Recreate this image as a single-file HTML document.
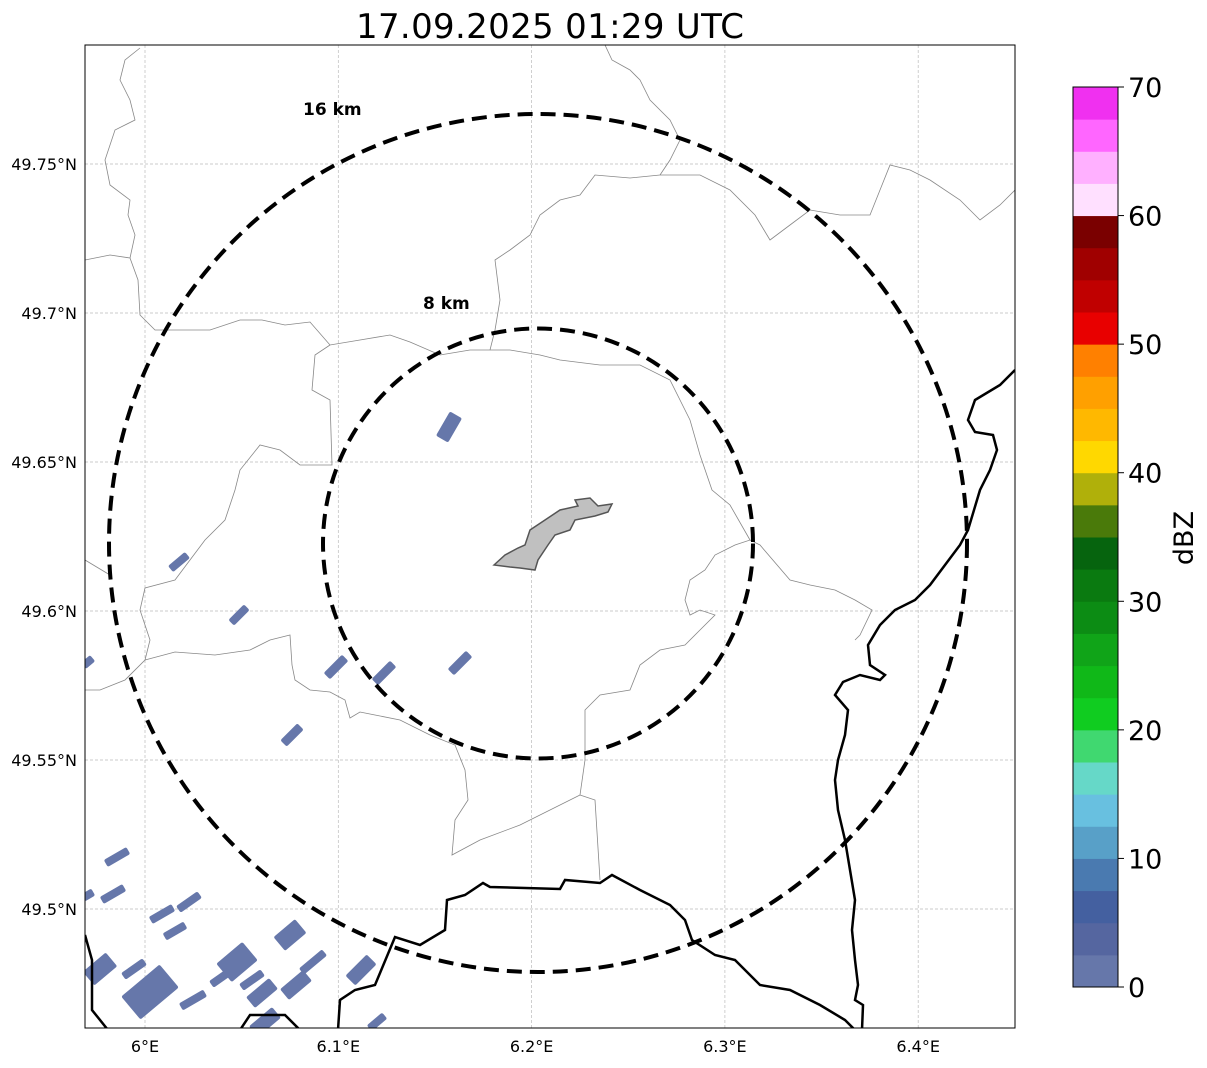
<!DOCTYPE html>
<html><head><meta charset="utf-8"><style>
body{margin:0;background:#fff;font-family:"DejaVu Sans","Liberation Sans",sans-serif}
svg text{font-family:"DejaVu Sans","Liberation Sans",sans-serif}
</style></head><body>
<svg width="1207" height="1064" xmlns="http://www.w3.org/2000/svg">
<text x="550" y="38" text-anchor="middle" font-size="34" textLength="388">17.09.2025 01:29 UTC</text>
<defs><clipPath id="mc"><rect x="85" y="45" width="930" height="983"/></clipPath></defs>
<g id="grid"></g>
<g clip-path="url(#mc)">
<g fill="none" stroke="#888" stroke-width="0.8">
<path d="M85,260 L110,255 L130,258 L138,280 L140,315 L155,330 L185,330 L210,330 L240,320 L262,320 L285,325 L310,322 L330,345 L360,340 L390,335 L410,342 L440,355 L470,350 L510,350 L540,355 L560,360 L600,365 L640,365 L670,380 L690,420 L700,455 L712,490 L730,505 L750,540"/>
<path d="M130,258 L135,235 L128,215 L130,200 L110,185 L105,160 L115,130 L135,120 L130,100 L120,80 L125,60 L140,48"/>
<path d="M330,345 L315,355 L312,390 L330,400 L332,465 L300,465 L280,450 L260,445 L240,470 L235,490 L225,520 L205,540 L190,560 L175,580 L145,588 L140,610 L150,640 L145,660 L125,680 L100,690 L85,690"/>
<path d="M145,660 L175,652 L215,655 L250,650 L270,640 L290,635 L292,665 L295,680 L310,690 L330,692 L345,700 L350,718 L360,712 L375,715 L400,720 L430,735 L455,745 L465,770 L468,800 L455,820 L452,855 L480,840 L520,825 L580,795"/>
<path d="M580,795 L595,800 L600,880"/>
<path d="M580,795 L585,760 L585,710 L600,695 L630,690 L640,665 L660,650 L685,645 L700,630 L715,615 L700,610 L690,615 L685,600 L690,580 L705,570 L715,555 L735,545 L750,540 L760,545 L790,580 L810,585 L835,590 L855,600 L872,610 L860,635 L855,640"/>
<path d="M490,350 L495,330 L500,300 L495,260 L510,250 L530,235 L540,215 L560,200 L580,195 L595,175 L630,178 L660,175 L700,175 L730,190 L755,215 L770,240 L790,225 L810,210 L840,215 L870,215 L880,190 L890,165 L910,170 L930,180 L960,200 L980,220 L1000,205 L1015,190"/>
<path d="M660,175 L670,160 L680,140 L670,120 L650,100 L640,80 L630,70 L612,60 L605,45"/>
<path d="M85,560 L110,575"/>
</g>
<g id="echoes" fill="#6677aa"></g>
<path d="M494,565 L505,555 L518,548 L525,545 L530,530 L545,520 L560,510 L578,506 L575,500 L590,498 L598,506 L612,504 L608,512 L595,516 L575,520 L570,530 L555,535 L548,545 L538,560 L535,570 L520,568 L510,567 Z" fill="#c0c0c0" stroke="#555" stroke-width="1.5"/>
<g fill="none" stroke="#000" stroke-width="2.5">
<path d="M1015,370 L1000,385 L975,400 L968,420 L975,432 L993,435 L997,450 L990,470 L980,490 L968,530 L960,545 L945,565 L930,585 L915,600 L895,610 L880,625 L868,645 L870,665 L885,675 L880,680 L860,675 L843,682 L835,695 L848,710 L845,735 L838,760 L835,780 L838,810 L845,840 L850,870 L855,900 L852,930 L855,960 L858,985 L855,1000 L863,1005 L862,1030"/>
<path d="M338,1030 L340,1000 L355,990 L375,985 L395,937 L420,945 L445,930 L447,900 L465,895 L483,883 L490,887 L560,889 L565,880 L600,883 L612,875 L640,890 L670,905 L685,920 L692,940 L715,955 L735,960 L760,985 L790,990 L820,1005 L845,1020 L855,1030"/>
<path d="M85,935 L92,960 L92,1010 L108,1030"/>
<path d="M240,1030 L250,1015 L285,1015 L300,1030"/>
</g>
</g>
<g fill="none" stroke="#000" stroke-width="4" stroke-dasharray="15,8">
<circle cx="538" cy="543" r="429"/>
<circle cx="538" cy="543.5" r="215"/>
</g>
<text x="303" y="115" font-size="17" font-weight="bold">16 km</text>
<text x="423" y="309" font-size="17" font-weight="bold">8 km</text>
<rect x="85" y="45" width="930" height="983" fill="none" stroke="#000" stroke-width="1"/>
<g id="ticks" font-size="16"></g>
<g id="cbar"></g>
<text transform="translate(1193,538) rotate(-90)" text-anchor="middle" font-size="27">dBZ</text>
</svg>
<script>
const lonTicks=[6.0,6.1,6.2,6.3,6.4];
const lonLabels=["6°E","6.1°E","6.2°E","6.3°E","6.4°E"];
const latTicks=[49.75,49.7,49.65,49.6,49.55,49.5];
const latLabels=["49.75°N","49.7°N","49.65°N","49.6°N","49.55°N","49.5°N"];
const cbarColors=["#6677aa","#5566a0","#4460a0","#4a7ab0","#58a0c8","#68c0e0","#66d8c8","#40d870","#10cc20","#10b818","#10a418","#0c8c14","#0a7a10","#06640e","#4a7a0a","#b0b00a","#ffd800","#ffb800","#ffa000","#ff8000","#e80000","#c00000","#a00000","#7a0000","#ffe0ff","#ffb0ff","#ff66ff","#f030f0"];
const cbarTicks=[0,10,20,30,40,50,60,70];
const echoes=[[449,427,28,14,-60],[179,562,22,8,-40],[239,615,22,8,-45],[336,667,26,9,-45],[384,673,26,9,-45],[460,663,26,9,-45],[292,735,24,9,-45],[88,662,12,8,-40],[117,857,26,8,-30],[113,894,26,8,-30],[88,895,12,8,-30],[162,914,26,8,-30],[175,931,24,8,-30],[189,902,26,8,-35],[290,935,28,18,-40],[237,962,34,24,-40],[150,992,50,30,-40],[100,969,30,18,-40],[134,969,26,8,-35],[193,1000,28,8,-30],[262,993,30,14,-40],[252,980,26,8,-35],[296,985,30,14,-40],[313,962,30,8,-40],[361,970,30,14,-45],[377,1022,20,8,-40],[265,1022,30,14,-40],[222,977,26,8,-35]];
const NS="http://www.w3.org/2000/svg";
const xOf=lon=>145+(lon-6.0)*1933;
const yOf=lat=>909-(lat-49.5)*2980;
const cbY=v=>987-v*(900/70);
function mk(t,a,p){const e=document.createElementNS(NS,t);for(const k in a)e.setAttribute(k,a[k]);p.appendChild(e);return e;}
const grid=document.getElementById('grid'),ticks=document.getElementById('ticks');
lonTicks.forEach((v,i)=>{const x=xOf(v);
 const l=mk('line',{x1:x,x2:x,y1:45,y2:1028,stroke:'#bbb','stroke-width':0.7,'stroke-dasharray':'3,2'},grid);
 
 
 const t=mk('text',{x:x,y:1052,'text-anchor':'middle'},ticks);t.textContent=lonLabels[i];
 
 });
latTicks.forEach((v,i)=>{const y=yOf(v);
 const l=mk('line',{x1:85,x2:1015,y1:y,y2:y,stroke:'#bbb','stroke-width':0.7,'stroke-dasharray':'3,2'},grid);
 
 
 const t=mk('text',{x:77,y:y+6,'text-anchor':'end'},ticks);t.textContent=latLabels[i];
 
 });
const eg=document.getElementById('echoes');
echoes.forEach(e=>{const r=mk('rect',{x:e[0]-e[2]/2,y:e[1]-e[3]/2,width:e[2],height:e[3],rx:2,transform:`rotate(${e[4]} ${e[0]} ${e[1]})`},eg);
 
 });
const cb=document.getElementById('cbar');
const bw=70/cbarColors.length;
cbarColors.forEach((c,i)=>{const y1=cbY((i+1)*bw),y0=cbY(i*bw);
 const r=mk('rect',{x:1073,y:y1,width:45,height:y0-y1+0.5,fill:c},cb);
 
 });
mk('rect',{x:1073,y:87,width:45,height:900,fill:'none',stroke:'#000','stroke-width':1},cb);
cbarTicks.forEach(v=>{const y=cbY(v);mk('line',{x1:1118,x2:1124,y1:y,y2:y,stroke:'#000'},cb);
 const t=mk('text',{x:1128,y:y+10,'font-size':27},cb);t.textContent=v;
 
 });
</script>
</body></html>
